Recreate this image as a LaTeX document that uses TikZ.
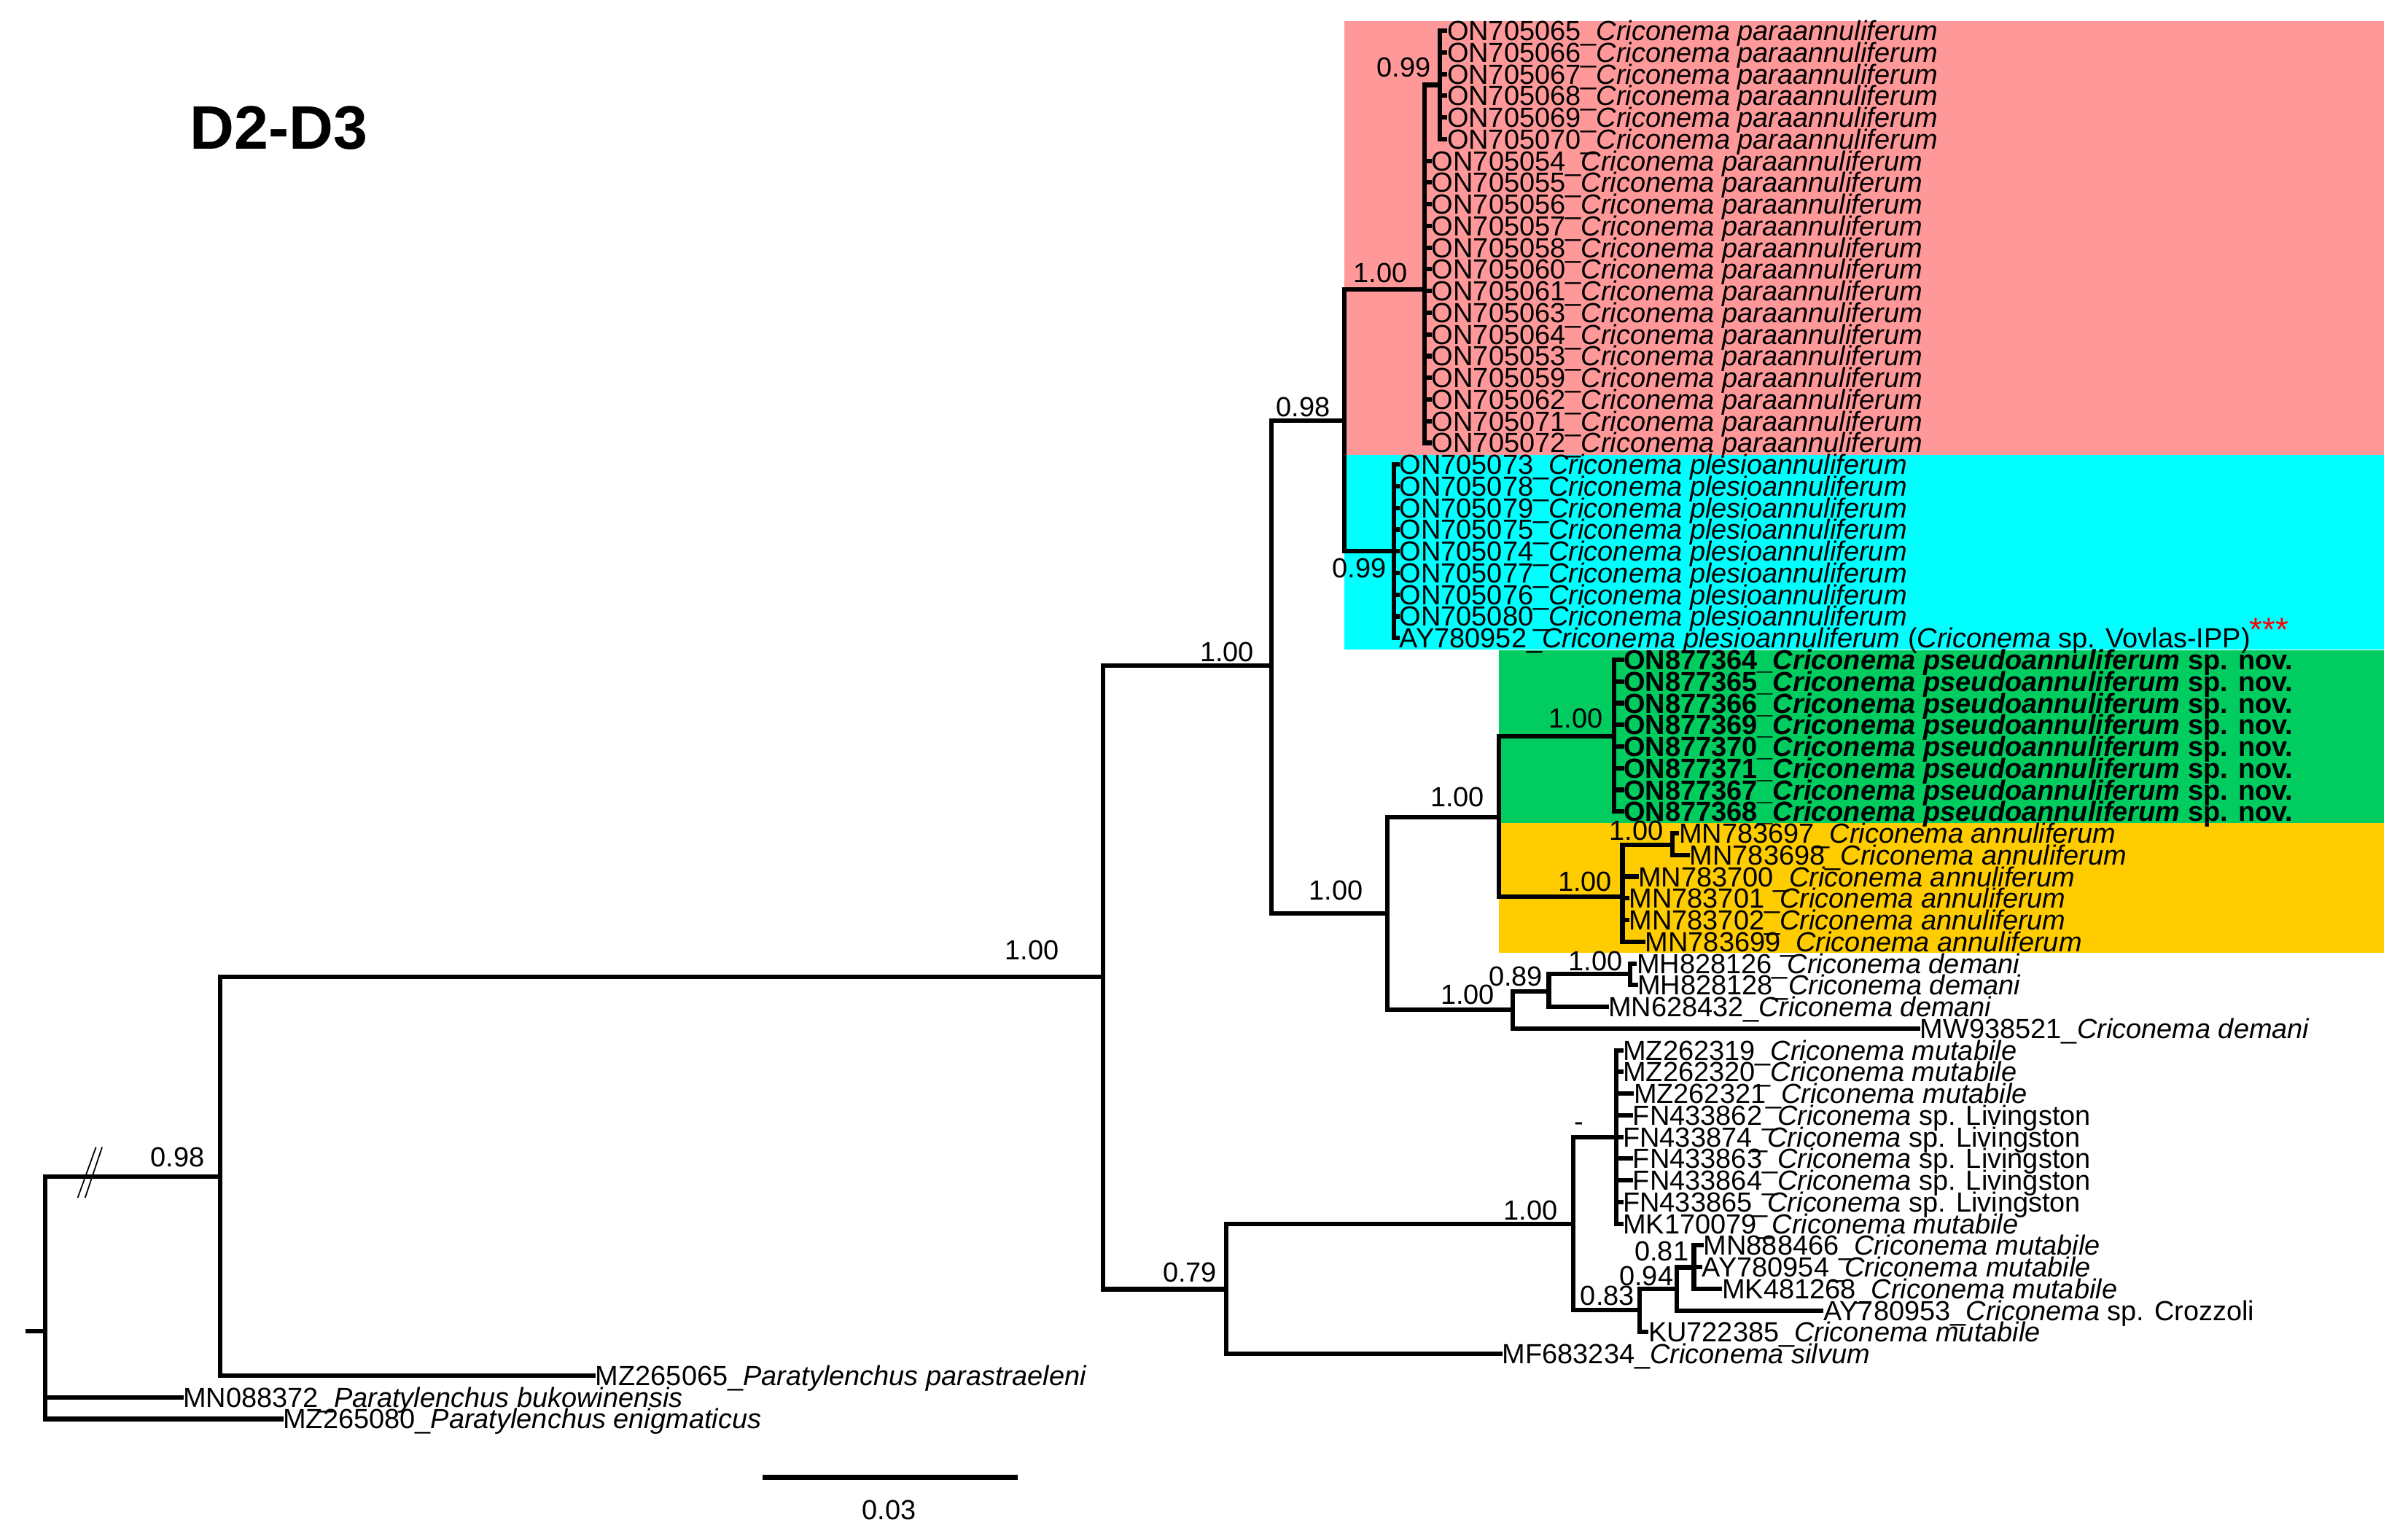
\documentclass[tikz,border=0pt]{standalone}
\usepackage{fontspec}
\setmainfont{Liberation Sans}
\definecolor{pinkbg}{RGB}{255,153,153}
\definecolor{cyanbg}{RGB}{0,255,255}
\definecolor{greenbg}{RGB}{0,204,96}
\definecolor{yellowbg}{RGB}{255,204,0}
\newcommand{\tleaf}[5]{%
  \coordinate (#1) at ({#3-1},{20+14.125*(#2)});
  \node[lbl] (#1-l) at (#3,{26.4+14.125*(#2)}) {#5};
  \draw[br] (#4) |- (#1);}
\newcommand{\cpa}{\_\textit{Criconema paraannuliferum}}
\newcommand{\cpl}{\_\textit{Criconema plesioannuliferum}}
\newcommand{\cps}{\_\textit{Criconema pseudoannuliferum} sp. nov.}
\newcommand{\can}{\_\textit{Criconema annuliferum}}
\newcommand{\cde}{\_\textit{Criconema demani}}
\newcommand{\cmu}{\_\textit{Criconema mutabile}}
\newcommand{\cli}{\_\textit{Criconema} sp. Livingston}
\begin{document}
\begin{tikzpicture}[x=0.0210651cm, y=-0.0210651cm,
  br/.style={line width=1.75pt, line cap=rect},
  lbl/.style={anchor=base west, inner sep=0pt, font=\fontsize{10.8}{12}\selectfont},
  supp/.style={inner sep=0pt, font=\fontsize{10.8}{12}\selectfont}]
\useasboundingbox (0,0) rectangle (1568,1000.2);
% clade backgrounds
\fill[pinkbg] (875.5,14) rectangle (1552.5,296.2);
\fill[cyanbg] (875.5,296.2) rectangle (1552.5,422.8);
\fill[greenbg] (976,423.3) rectangle (1552.5,536);
\fill[yellowbg] (976,536) rectangle (1552.5,620.4);
% title
\node[inner sep=0pt, font=\fontsize{24}{28}\selectfont\bfseries] (title) at (181.5,83.5) {D2-D3};
% internal nodes
\coordinate (r0) at (18,866.9);
\coordinate (r) at (29.3,866.9);
\coordinate (A) at (143.2,766);
\coordinate (B) at (718.2,636);
\coordinate (C) at (827.8,433.5);
\coordinate (D) at (875.5,274);
\coordinate (E) at (927.5,188.5);
\coordinate (E1) at (937.5,55.3);
\coordinate (F) at (907.5,359);
\coordinate (G) at (903.5,595);
\coordinate (H) at (976,532);
\coordinate (GR) at (1051,479.5);
\coordinate (YE) at (1056.5,584);
\coordinate (Y1) at (1089,550);
\coordinate (I) at (985,657.5);
\coordinate (J) at (1008.5,645.6);
\coordinate (K) at (1061.5,634.4);
\coordinate (L) at (798.3,839.5);
\coordinate (M) at (1024.5,797);
\coordinate (Q) at (1052.5,740.4);
\coordinate (N) at (1067.5,853.2);
\coordinate (O) at (1092,839.4);
\coordinate (P) at (1103,825.3);
\draw[br] (r0) -- (r);
\foreach \p/\c in {r/A, A/B, B/C, C/D, D/E, E/E1, D/F, C/G, G/H, H/GR, H/YE, YE/Y1, G/I, I/J, J/K, B/L, L/M, M/Q, M/N, N/O, O/P}
  \draw[br] (\p) |- (\c);
% break mark
\coordinate (bk1a) at (50.6,780); \coordinate (bk1b) at (62.5,747);
\coordinate (bk2a) at (55.4,780); \coordinate (bk2b) at (66.5,747);
\draw[line width=0.5pt] (bk1a) -- (bk1b);
\draw[line width=0.5pt] (bk2a) -- (bk2b);
% pink clade
\tleaf{t0}{0}{942}{E1}{ON705065\cpa}
\tleaf{t1}{1}{942}{E1}{ON705066\cpa}
\tleaf{t2}{2}{942}{E1}{ON705067\cpa}
\tleaf{t3}{3}{942}{E1}{ON705068\cpa}
\tleaf{t4}{4}{942}{E1}{ON705069\cpa}
\tleaf{t5}{5}{942}{E1}{ON705070\cpa}
\tleaf{t6}{6}{932}{E}{ON705054\cpa}
\tleaf{t7}{7}{932}{E}{ON705055\cpa}
\tleaf{t8}{8}{932}{E}{ON705056\cpa}
\tleaf{t9}{9}{932}{E}{ON705057\cpa}
\tleaf{t10}{10}{932}{E}{ON705058\cpa}
\tleaf{t11}{11}{932}{E}{ON705060\cpa}
\tleaf{t12}{12}{932}{E}{ON705061\cpa}
\tleaf{t13}{13}{932}{E}{ON705063\cpa}
\tleaf{t14}{14}{932}{E}{ON705064\cpa}
\tleaf{t15}{15}{932}{E}{ON705053\cpa}
\tleaf{t16}{16}{932}{E}{ON705059\cpa}
\tleaf{t17}{17}{932}{E}{ON705062\cpa}
\tleaf{t18}{18}{932}{E}{ON705071\cpa}
\tleaf{t19}{19}{932}{E}{ON705072\cpa}
% cyan clade
\tleaf{t20}{20}{911}{F}{ON705073\cpl}
\tleaf{t21}{21}{911}{F}{ON705078\cpl}
\tleaf{t22}{22}{911}{F}{ON705079\cpl}
\tleaf{t23}{23}{911}{F}{ON705075\cpl}
\tleaf{t24}{24}{911}{F}{ON705074\cpl}
\tleaf{t25}{25}{911}{F}{ON705077\cpl}
\tleaf{t26}{26}{911}{F}{ON705076\cpl}
\tleaf{t27}{27}{911}{F}{ON705080\cpl}
\tleaf{t28}{28}{911}{F}{AY780952\cpl{} (\textit{Criconema} sp. Vovlas-IPP)}
\node[inner sep=0pt, text=red, font=\fontsize{13}{14}\selectfont] (stars) at (1477.5,410) {***};
% green clade
\tleaf{t29}{29}{1057}{GR}{\textbf{ON877364\cps}}
\tleaf{t30}{30}{1057}{GR}{\textbf{ON877365\cps}}
\tleaf{t31}{31}{1057}{GR}{\textbf{ON877366\cps}}
\tleaf{t32}{32}{1057}{GR}{\textbf{ON877369\cps}}
\tleaf{t33}{33}{1057}{GR}{\textbf{ON877370\cps}}
\tleaf{t34}{34}{1057}{GR}{\textbf{ON877371\cps}}
\tleaf{t35}{35}{1057}{GR}{\textbf{ON877367\cps}}
\tleaf{t36}{36}{1057}{GR}{\textbf{ON877368\cps}}
% yellow clade
\tleaf{t37}{37}{1093}{Y1}{MN783697\can}
\tleaf{t38}{38}{1100}{Y1}{MN783698\can}
\tleaf{t39}{39}{1066.5}{YE}{MN783700\can}
\tleaf{t40}{40}{1060.5}{YE}{MN783701\can}
\tleaf{t41}{41}{1060.5}{YE}{MN783702\can}
\tleaf{t42}{42}{1071}{YE}{MN783699\can}
% demani
\tleaf{t43}{43}{1065.5}{K}{MH828126\cde}
\tleaf{t44}{44}{1066}{K}{MH828128\cde}
\tleaf{t45}{45}{1047}{J}{MN628432\cde}
\tleaf{t46}{46}{1250}{I}{MW938521\cde}
% mutabile group
\tleaf{t47}{47}{1056.5}{Q}{MZ262319\cmu}
\tleaf{t48}{48}{1056.5}{Q}{MZ262320\cmu}
\tleaf{t49}{49}{1063.5}{Q}{MZ262321\cmu}
\tleaf{t50}{50}{1063}{Q}{FN433862\cli}
\tleaf{t51}{51}{1056.5}{Q}{FN433874\cli}
\tleaf{t52}{52}{1063}{Q}{FN433863\cli}
\tleaf{t53}{53}{1063}{Q}{FN433864\cli}
\tleaf{t54}{54}{1056.5}{Q}{FN433865\cli}
\tleaf{t55}{55}{1056.5}{Q}{MK170079\cmu}
\tleaf{t56}{56}{1109}{P}{MN888466\cmu}
\tleaf{t57}{57}{1108}{P}{AY780954\cmu}
\tleaf{t58}{58}{1121}{P}{MK481268\cmu}
\tleaf{t59}{59}{1187}{O}{AY780953\_\textit{Criconema} sp. Crozzoli}
\tleaf{t60}{60}{1073}{N}{KU722385\cmu}
\tleaf{t61}{61}{978}{L}{MF683234\_\textit{Criconema silvum}}
% outgroups
\tleaf{t62}{62}{387.5}{A}{MZ265065\_\textit{Paratylenchus parastraeleni}}
\tleaf{t63}{63}{119}{r}{MN088372\_\textit{Paratylenchus bukowinensis}}
\tleaf{t64}{64}{184}{r}{MZ265080\_\textit{Paratylenchus enigmaticus}}
% support values
\node[supp] (s1) at (115.5,753.4) {0.98};
\node[supp] (s2) at (672,619) {1.00};
\node[supp] (s3) at (799,424.4) {1.00};
\node[supp] (s4) at (774.7,828.6) {0.79};
\node[supp] (s5) at (848.7,265) {0.98};
\node[supp] (s6) at (870,580) {1.00};
\node[supp] (s7) at (899,177.6) {1.00};
\node[supp] (s8) at (885,370) {0.99};
\node[supp] (s9) at (914,44) {0.99};
\node[supp] (s10) at (949,519) {1.00};
\node[supp] (s11) at (955.6,647.5) {1.00};
\node[supp] (s12) at (1026,468) {1.00};
\node[supp] (s13) at (1032,574) {1.00};
\node[supp] (s14) at (1065.5,541) {1.00};
\node[supp] (s15) at (987,636) {0.89};
\node[supp] (s16) at (1039,626) {1.00};
\node[supp] (s17) at (996.6,788) {1.00};
\node[supp] (s18) at (1028,734) {-};
\node[supp] (s19) at (1046.7,844) {0.83};
\node[supp] (s20) at (1072,831) {0.94};
\node[supp] (s21) at (1082,815) {0.81};
% scale bar
\coordinate (sb1) at (496.5,962);
\coordinate (sb2) at (662.6,962);
\draw[br, line cap=butt] (sb1) -- (sb2);
\node[supp] (sbl) at (579,983.5) {0.03};
\end{tikzpicture}
\end{document}
